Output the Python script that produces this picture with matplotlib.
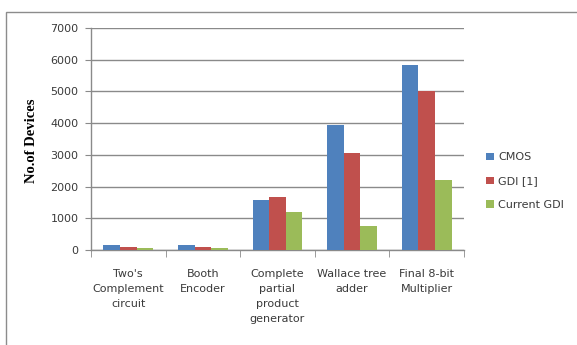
import numpy as np
import matplotlib
matplotlib.use("Agg")
import matplotlib.pyplot as plt
from matplotlib.patches import Rectangle

categories = ["Two's\nComplement\ncircuit", "Booth\nEncoder",
              "Complete\npartial\nproduct\ngenerator", "Wallace tree\nadder",
              "Final 8-bit\nMultiplier"]
series_names = ["CMOS", "GDI [1]", "Current GDI"]
cmos = [150, 150, 1570, 3930, 5820]
gdi = [80, 80, 1670, 3070, 5000]
current_gdi = [70, 70, 1190, 770, 2220]
y_ticks = [0, 1000, 2000, 3000, 4000, 5000, 6000, 7000]

colors = ["#4F81BD", "#C0504D", "#9BBB59"]
font = "DejaVu Sans"
text_color = "#3a3a3a"

fig = plt.figure(figsize=(5.77, 3.45), dpi=100)
fig.patch.set_facecolor("white")

# outer chart frame
fig.add_artist(Rectangle((6 / 577, -0.05), 1.0, 1 - 12 / 345 + 0.05,
                         transform=fig.transFigure, fill=False,
                         edgecolor="#8c8c8c", linewidth=1.0))

ax = fig.add_axes([91 / 577, 1 - 250 / 345, 373 / 577, 222 / 345])

x = np.arange(len(categories))
w = 1 / 4.5
for i, (vals, name) in enumerate(zip([cmos, gdi, current_gdi], series_names)):
    ax.bar(x + (i - 1) * w, vals, width=w, color=colors[i], label=name,
           zorder=3)

ax.set_xlim(-0.5, len(categories) - 0.5)
ax.set_ylim(0, 7000)
ax.set_yticks(y_ticks)
ax.set_yticklabels([str(v) for v in y_ticks], fontfamily=font, fontsize=8,
                   color=text_color)
ax.yaxis.grid(True, color="#8a8a8a", linewidth=1.0, zorder=0)
ax.tick_params(axis="y", length=4, color="#8a8a8a", pad=5)

ax.set_xticks(x)
ax.set_xticklabels(categories, fontfamily=font, fontsize=8, color=text_color,
                   linespacing=1.6, va="top")
ax.tick_params(axis="x", length=0, pad=14)
ax.set_xticks(np.arange(-0.5, len(categories) + 0.5, 1), minor=True)
ax.tick_params(axis="x", which="minor", length=5, color="#8a8a8a")

for s in ["top", "right"]:
    ax.spines[s].set_visible(False)
for s in ["left", "bottom"]:
    ax.spines[s].set_color("#8a8a8a")
    ax.spines[s].set_linewidth(1.0)

ax.set_ylabel("No.of Devices", fontfamily="Liberation Serif",
              fontweight="bold", fontsize=10.5)
ax.yaxis.set_label_coords(-0.142, 0.49)

leg = ax.legend(loc="center left", bbox_to_anchor=(1.045, 0.31), frameon=False,
                prop={"family": font, "size": 8}, handlelength=0.65,
                handleheight=0.65, handletextpad=0.4, labelspacing=1.25,
                borderpad=0.0)
for t in leg.get_texts():
    t.set_color(text_color)

fig.savefig("out.png", dpi=100)
